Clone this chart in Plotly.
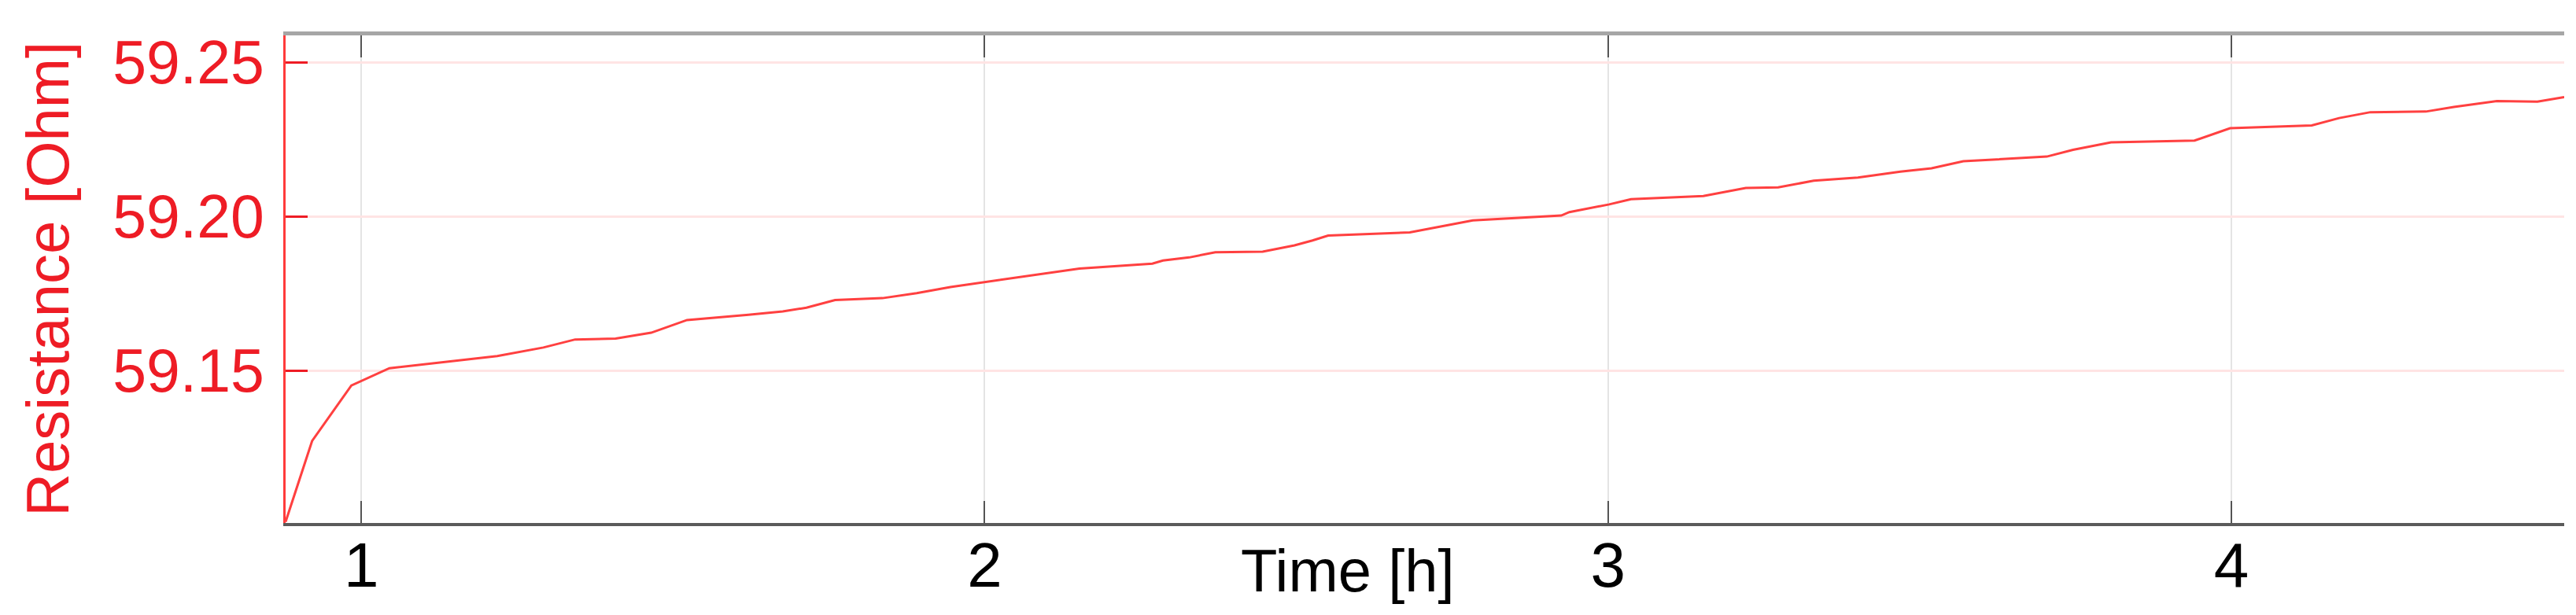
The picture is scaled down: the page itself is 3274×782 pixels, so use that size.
import plotly.graph_objects as go

# values
time_h = [
    0.8785, 0.921, 0.984, 1.045, 1.218, 1.292, 1.343, 1.408, 1.465, 1.5225,
    1.621, 1.676, 1.714, 1.760, 1.836, 1.891, 1.945, 2.000, 2.080, 2.152,
    2.269, 2.286, 2.328, 2.370, 2.446, 2.497, 2.526, 2.551, 2.682, 2.736,
    2.783, 2.925, 2.938, 3.002, 3.037, 3.153, 3.221, 3.273, 3.330, 3.401,
    3.469, 3.519, 3.570, 3.704, 3.746, 3.807, 3.941, 3.998, 4.129, 4.173,
    4.223, 4.312, 4.357, 4.426, 4.491, 4.534,
]
resistance_ohm = [
    59.1010, 59.1272, 59.1452, 59.1508, 59.1547, 59.1575, 59.1601, 59.1604, 59.1623, 59.1664,
    59.1681, 59.1692, 59.1704, 59.1729, 59.1735, 59.1751, 59.1771, 59.1787, 59.1809, 59.1831,
    59.1847, 59.1857, 59.1867, 59.1884, 59.1886, 59.1906, 59.1922, 59.1938, 59.1948, 59.1968,
    59.1987, 59.2003, 59.2014, 59.2039, 59.2056, 59.2066, 59.2092, 59.2094, 59.2116, 59.2126,
    59.2145, 59.2156, 59.2179, 59.2194, 59.2216, 59.2240, 59.2246, 59.2286, 59.2295, 59.2319,
    59.2338, 59.2340, 59.2355, 59.2374, 59.2372, 59.2387,
]
x_ticks = [1, 2, 3, 4]
y_ticks = [59.15, 59.20, 59.25]

RED = "#ee1c25"
FONT = "Liberation Sans, Arial, sans-serif"
X_RANGE = [0.8785, 4.534]

fig = go.Figure()

fig.add_trace(
    go.Scatter(
        x=time_h,
        y=resistance_ohm,
        mode="lines",
        line=dict(color="#ff4040", width=3),
        hoverinfo="x+y",
        showlegend=False,
    )
)

# invisible copy so the top axis (frame with ticks) gets drawn
fig.add_trace(
    go.Scatter(
        x=time_h,
        y=resistance_ohm,
        xaxis="x2",
        mode="lines",
        line=dict(width=0),
        hoverinfo="skip",
        showlegend=False,
    )
)

fig.update_layout(
    width=3274,
    height=782,
    margin=dict(l=355, r=23, t=37, b=125, autoexpand=False),
    paper_bgcolor="white",
    plot_bgcolor="white",
    font=dict(family=FONT, size=76, color="black"),
    xaxis=dict(
        range=X_RANGE,
        tickvals=x_ticks,
        ticks="inside",
        ticklen=28,
        tickwidth=2,
        tickcolor="#555555",
        showline=True,
        linecolor="#5a5a5a",
        linewidth=4,
        showgrid=True,
        gridcolor="#e4e4e4",
        gridwidth=2,
        zeroline=False,
        tickfont=dict(family=FONT, size=80, color="black"),
        ticklabelstandoff=-19,
    ),
    xaxis2=dict(
        range=X_RANGE,
        overlaying="x",
        side="top",
        tickvals=x_ticks,
        ticks="inside",
        ticklen=28,
        tickwidth=2,
        tickcolor="#555555",
        showticklabels=False,
        showline=True,
        linecolor="#a6a6a6",
        linewidth=5,
        showgrid=False,
        zeroline=False,
    ),
    yaxis=dict(
        range=[59.1006, 59.2587],
        tickvals=y_ticks,
        tickformat=".2f",
        ticks="inside",
        ticklen=28,
        tickwidth=3,
        tickcolor=RED,
        showline=True,
        linecolor="#ff3b3b",
        linewidth=2.5,
        showgrid=True,
        gridcolor="#ffe4e4",
        gridwidth=3,
        zeroline=False,
        tickfont=dict(family=FONT, size=77, color=RED),
        ticklabelstandoff=9,
    ),
)

# axis titles
fig.add_annotation(
    text="Time [h]", xref="paper", yref="paper",
    x=0.466, y=-0.026, xanchor="center", yanchor="top",
    showarrow=False,
    font=dict(family=FONT, size=76, color="black"),
)
fig.add_annotation(
    text="Resistance [Ohm]", xref="paper", yref="paper",
    x=-0.1047, y=0.5, xanchor="center", yanchor="middle",
    textangle=-90, showarrow=False,
    font=dict(family=FONT, size=76, color=RED),
)

fig.write_html("out.html")
